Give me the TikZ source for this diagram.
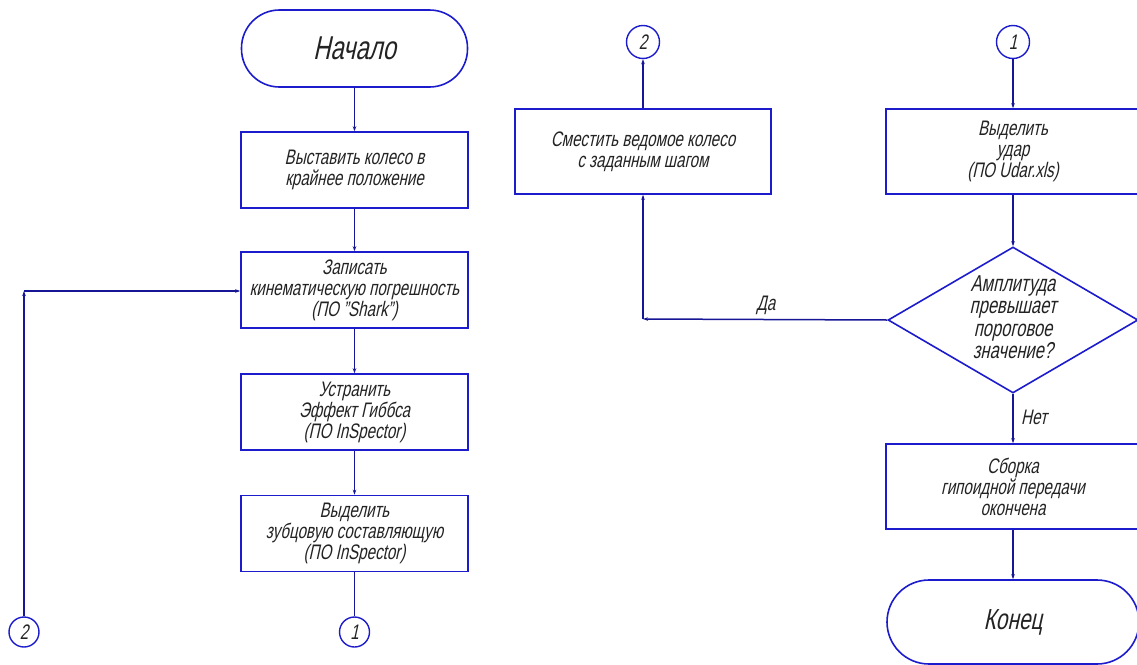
\documentclass[tikz,border=0pt]{standalone}
\usepackage{fontspec}
\setmainfont{Liberation Sans}[FakeSlant=0.22,FakeStretch=0.72]
\usetikzlibrary{arrows.meta,shapes.geometric}
\definecolor{boxblue}{RGB}{28,28,205}
\definecolor{linenavy}{RGB}{22,22,150}
\definecolor{txt}{RGB}{35,35,35}
\newcommand\boxfont{\fontsize{21}{21}\selectfont}
\begin{document}
\begin{tikzpicture}[x=1pt,y=-1pt,
 box/.style={draw=boxblue, line width=1.6pt, rectangle, minimum width=227pt, minimum height=76pt, inner sep=0pt, align=center, font=\boxfont, text=txt},
 wbox/.style={box, minimum width=256pt, minimum height=85pt},
 term/.style={draw=boxblue, line width=1.6pt, rectangle, inner sep=0pt, text=txt},
 conn/.style={draw=boxblue, line width=1.4pt, circle, minimum size=30pt, inner sep=0pt, font=\fontsize{21}{21}\selectfont, text=txt},
 link/.style={draw=linenavy, line width=1.5pt},
 arr/.style={link, -{Stealth[length=5pt,width=3.5pt]}},
 lbl/.style={font=\boxfont, text=txt, inner sep=0pt}
]
\clip (0,0) rectangle (1137,664);
\fill[white] (0,0) rectangle (1137,664);
% left column
\node[term, rounded corners=38pt, minimum width=226pt, minimum height=77pt, font=\fontsize{33}{33}\selectfont] (start) at (354.5,48.5) {Начало};
\node[box] (b1) at (354.5,170) {Выставить колесо в\\крайнее положение};
\node[box] (b2) at (354.5,290) {Записать\\кинематическую погрешность\\(ПО "Shark")};
\node[box] (b3) at (354.5,412) {Устранить\\Эффект Гиббса\\(ПО InSpector)};
\node[box] (b4) at (354.5,533.5) {Выделить\\зубцовую составляющую\\(ПО InSpector)};
\node[conn] (c1a) at (354.5,632) {1};
\node[conn] (c2a) at (24,632) {2};
\coordinate (k2) at (24,291);
% right part
\node[conn, minimum size=33pt] (c2b) at (643,42) {2};
\node[conn, minimum size=33pt] (c1b) at (1013,42) {1};
\node[wbox] (b5) at (643,151.5) {Сместить ведомое колесо\\с заданным шагом};
\node[wbox, minimum width=254pt] (b6) at (1013,151.5) {Выделить\\удар\\(ПО Udar.xls)};
\node[diamond, draw=boxblue, line width=1.6pt, minimum width=250pt, minimum height=146pt, inner sep=0pt] (d) at (1013,320) {};
\node[lbl, align=center, font=\fontsize{23}{22.5}\selectfont] (dt) at (1013,317) {Амплитуда\\превышает\\пороговое\\значение?};
\node[wbox, minimum width=254pt] (b7) at (1013,486.5) {Сборка\\гипоидной передачи\\окончена};
\node[term, rounded corners=42pt, minimum width=252pt, minimum height=84pt, font=\fontsize{29}{29}\selectfont] (end) at (1013,622) {Конец};
\coordinate (k1) at (643,319);
\node[lbl, anchor=base west] (net) at (1021,424) {Нет};
\node[lbl, anchor=base] (da) at (766,310) {Да};
% connectors
\draw[arr] (start.south) -- (b1.north);
\draw[arr] (b1.south) -- (b2.north);
\draw[arr] (b2.south) -- (b3.north);
\draw[arr] (b3.south) -- (b4.north);
\draw[link] (b4.south) -- (c1a.north);
\draw[arr] (c2a.north) -- (k2);
\draw[arr] (k2) -- (b2.west |- k2);
\draw[arr] (c1b.south) -- (b6.north);
\draw[arr] (b6.south) -- (d.north);
\draw[arr] (d.south) -- (b7.north);
\draw[arr] (b7.south) -- (end.north);
\draw[arr] (d.west) -- (k1);
\draw[arr] (k1) -- (b5.south);
\draw[arr] (b5.north) -- (c2b.south);
\end{tikzpicture}
\end{document}
